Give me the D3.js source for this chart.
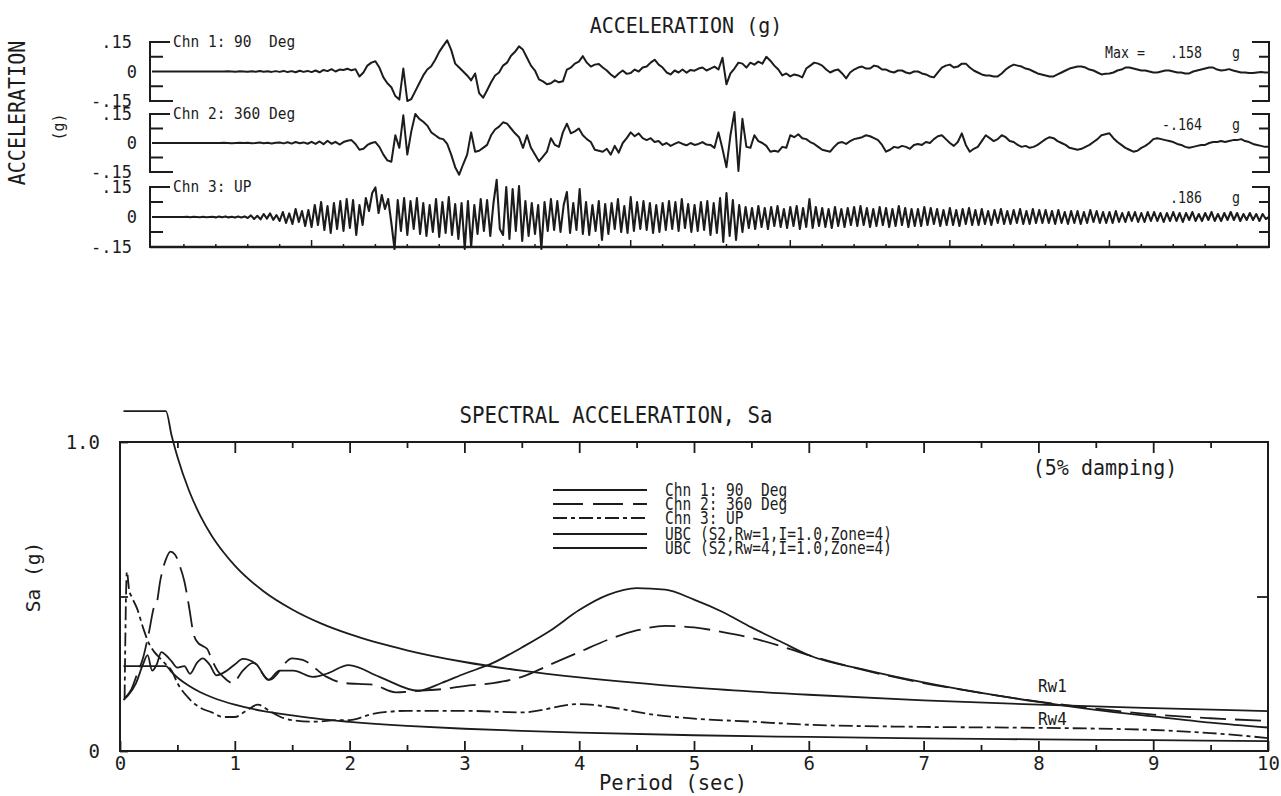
<!DOCTYPE html>
<html>
<head>
<meta charset="utf-8">
<script src="https://cdn.jsdelivr.net/npm/d3@7"></script>
<style>
body{margin:0;background:#fff;}
text{font-family:"DejaVu Sans Mono",monospace;fill:#1c1c1c;white-space:pre;}
</style>
</head>
<body>
<script>
// ---------- data: acceleration time histories (mg), ch1/ch2 every 0.125 s, ch3 every 0.1 s ----------
var dt12=0.125, dt3=0.1;
var ch1=[
0,0,0,0,0,0,0,0, 0,0,0,0,0,0,0,0, 0,0,0,1,0,-1,1,0, -1,1,-1,2,-1,1,-2,2,
-2,3,-3,2,-4,4,-2,3, -3,5,-4,8,2,12,0,10, 8,14,6,12,-25,-5,30,45, 52,20,-30,-60,-80,-125,-143,15,
-150,-140,-100,-60,-20,10,27,60, 100,130,158,110,40,20,0,-20, -45,-10,-110,-133,-95,-55,-20,-5, 30,45,80,100,128,110,70,30,
5,-40,-50,-65,-60,-45,-55,-50, 10,20,40,50,78,45,25,35, 38,20,5,-15,-30,-10,5,-12, -8,10,0,20,25,45,60,35,
20,-5,-15,5,-5,10,-6,8, 4,15,20,5,15,25,10,70, -65,-10,15,45,40,20,45,35, 50,40,75,55,30,10,-20,-10,
-25,-15,-20,-30,15,30,45,40, 30,10,-5,5,10,-10,-35,-5, 10,20,25,15,15,30,25,10, 10,0,-5,5,5,-5,-10,0,
0,-10,-15,-25,-30,-5,20,30, 35,20,25,40,40,20,5,-5, -15,-20,-20,-25,-25,-10,10,25, 35,30,25,15,10,0,-10,-15,
-20,-25,-25,-15,-5,5,15,20, 25,25,20,10,5,-5,-15,-12, -10,-5,5,10,20,20,15,10, 5,5,0,-5,-5,0,5,5,
0,-5,-5,-10,-10,0,5,10, 15,20,20,10,5,8,12,5, 0,-5,-5,-8,-8,-5,-3,-5, -5];
var ch2=[
0,0,0,0,0,0,0,0, 0,0,0,0,0,0,0,0, 0,0,1,0,-1,0,1,0, 1,-1,0,2,-1,1,-2,1,
3,-2,4,-3,5,-1,3,-4, 6,-5,8,-6,12,-4,6,-8, 5,12,15,-5,-35,-30,-10,0, 5,-20,-60,-90,-97,40,-25,143,
-60,60,150,125,110,90,55,40, 25,20,-5,-60,-125,-164,-110,-60, 55,-45,-40,-25,-10,40,70,85, 107,100,75,50,30,-25,40,-25,
-60,-95,-70,-45,25,-10,-20,55, 100,50,60,75,40,20,5,-35, -40,-45,-30,-60,-15,-50,0,25, 55,35,50,25,15,25,5,10,
-10,0,-15,-5,5,-5,-12,0, -10,-5,5,-8,-10,-25,55,-30, -125,40,160,-145,125,-20,-25,40, 10,0,-15,-45,-40,-45,-20,-25,
40,30,45,25,20,5,-5,-20, -35,-40,-45,-20,0,5,-5,10, 20,25,30,40,35,25,15,-10, -45,-35,-20,-25,-15,-20,-30,-10,
-5,-10,5,0,20,35,40,20, 0,-15,5,50,-10,-45,-30,-20, 10,40,25,10,20,40,30,10, 5,-10,-20,-15,-25,-20,-10,5,
20,30,25,10,0,-10,-25,-30, -35,-30,-20,-10,5,20,40,45, 50,25,5,-10,-25,-35,-45,-40, -25,-15,0,20,25,20,15,10,
5,-5,-10,-20,-25,-20,-15,-10, -10,0,5,5,10,5,10,15, 15,20,10,5,-5,-10,-15,-20, -20];
var ch3=[
0,0,0,0,0,0,0,0,0,0, 0,1,-1,1,0,-1,1,-1,0,1, -2,2,-1,3,-2,1,-3,2,-2,3, -5,8,-10,6,-12,15,-8,18,-14,10,
-20,25,-30,18,-35,40,-25,30,-45,35, -50,60,-40,75,-65,55,-80,70,-60,80, -70,90,-55,85,-90,60,-40,95,30,120,
148,20,110,40,90,-30,-160,85,-70,95, -90,80,-60,95,-85,70,-95,60,-75,90, -100,75,-80,100,-90,65,-110,70,-160,80,
-150,60,-85,90,-70,85,-95,70,186,-60, -90,150,-110,140,-70,155,-120,80,-95,70, -85,60,-160,75,-70,90,-65,80,-75,60,
125,-80,70,-65,140,-85,75,-90,60,-70, 80,-115,65,-85,70,-60,90,-75,55,-80, 100,-70,75,-60,80,-65,70,-80,60,-75,
70,-65,80,-60,75,-70,90,-55,65,-75, 60,-70,75,-65,80,-90,70,-80,95,-125, 120,-95,85,-115,60,-75,50,-55,45,-60,
55,-50,45,-60,50,-45,55,-50,40,-55, 50,-45,55,-60,45,-50,90,-55,50,-45, 45,-50,40,-55,50,-45,40,-50,45,-40,
50,-45,55,-40,45,-50,40,-45,50,-40, 45,-50,40,-45,55,-40,45,-50,40,-45, 40,-45,50,-40,45,-35,40,-45,35,-40,
45,-40,35,-45,40,-35,45,-40,35,-40, 40,-35,30,-40,35,-30,40,-35,30,-35, 35,-30,40,-35,30,-35,40,-30,35,-30,
35,-30,30,-35,35,-30,25,-35,30,-30, 30,-35,25,-30,35,-25,30,-30,25,-30, 25,-30,30,-25,20,-25,25,-20,25,-25,
20,-25,25,-20,25,-20,20,-25,20,-20, 25,-20,20,-25,20,-15,25,-20,15,-20, 20,-15,25,-20,15,-20,20,-15,25,-15,
20,-20,15,-15,20,-15,15,-20,15,-10, 0];
var chanLabels=["Chn 1: 90  Deg","Chn 2: 360 Deg","Chn 3: UP"];
var maxLabels=[".158","-.164",".186"];
var accTicks=[0.15,0,-0.15];
var accTickLabels=[".15","0","-.15"];

// ---------- data: response spectra (period s, Sa g) ----------
var t1=[0.03,0.07,0.14,0.2,0.24,0.28,0.32,0.36,0.4,0.45,0.5,0.56,0.61,0.67,0.72,0.78,0.84,0.93,1.0,1.07,1.19,1.29,1.39,1.51,1.68,1.8,1.99,2.26,2.6,2.8,3.0,3.25,3.5,3.75,4.0,4.25,4.5,4.75,5.0,5.25,5.5,5.75,6.0,6.5,7.0,7.5,8.0,8.5,9.0,9.5,10];
var sa1=[0.165,0.18,0.22,0.28,0.31,0.26,0.28,0.32,0.31,0.29,0.27,0.275,0.25,0.285,0.30,0.28,0.245,0.26,0.28,0.298,0.28,0.23,0.26,0.26,0.24,0.25,0.278,0.24,0.195,0.22,0.25,0.285,0.335,0.39,0.456,0.505,0.527,0.522,0.49,0.45,0.40,0.355,0.31,0.262,0.222,0.188,0.159,0.133,0.112,0.092,0.076];
var t2=[0.04,0.1,0.15,0.2,0.25,0.3,0.32,0.35,0.4,0.44,0.48,0.52,0.56,0.6,0.64,0.68,0.72,0.76,0.8,0.85,0.9,0.98,1.07,1.16,1.3,1.5,1.59,1.8,1.95,2.2,2.4,2.6,2.8,3.0,3.25,3.5,3.75,4.0,4.25,4.5,4.75,5.0,5.25,5.5,5.75,6.0,6.5,7.0,7.5,8.0,8.5,9.0,9.5,10];
var sa2=[0.17,0.2,0.25,0.3,0.38,0.47,0.48,0.55,0.62,0.645,0.635,0.6,0.55,0.47,0.38,0.35,0.34,0.33,0.295,0.26,0.24,0.22,0.26,0.285,0.23,0.30,0.295,0.24,0.22,0.215,0.19,0.195,0.2,0.21,0.22,0.24,0.28,0.32,0.36,0.39,0.405,0.40,0.385,0.366,0.34,0.31,0.26,0.22,0.188,0.16,0.137,0.118,0.106,0.097];
var t3=[0.04,0.06,0.08,0.1,0.15,0.2,0.25,0.3,0.35,0.4,0.45,0.5,0.6,0.7,0.8,0.9,1.0,1.1,1.2,1.3,1.4,1.5,1.7,1.9,2.0,2.2,2.5,3.0,3.5,4.0,4.3,4.6,5.0,5.5,6.0,7.0,8.0,9.0,9.5,10];
var sa3=[0.17,0.58,0.52,0.5,0.46,0.4,0.35,0.32,0.3,0.28,0.26,0.22,0.17,0.14,0.125,0.11,0.11,0.13,0.15,0.13,0.11,0.1,0.095,0.1,0.1,0.12,0.13,0.13,0.125,0.152,0.14,0.12,0.105,0.095,0.085,0.078,0.075,0.068,0.058,0.042];
var tUbc=[0.03,0.4,0.45,0.5,0.6,0.7,0.8,0.9,1.0,1.25,1.5,1.75,2.0,2.5,3.0,3.5,4.0,5.0,6.0,7.0,8.0,9.0,10.0];
var saRw1=[1.1,1.1,1.02,0.952,0.844,0.761,0.696,0.644,0.6,0.517,0.458,0.413,0.378,0.326,0.288,0.26,0.238,0.205,0.182,0.164,0.15,0.139,0.129];
var saRw4=[0.275,0.275,0.255,0.238,0.211,0.19,0.174,0.161,0.15,0.129,0.115,0.103,0.0945,0.0815,0.072,0.065,0.0595,0.051,0.0455,0.041,0.0375,0.035,0.032];
var legendLabels=["Chn 1: 90  Deg","Chn 2: 360 Deg","Chn 3: UP","UBC (S2,Rw=1,I=1.0,Zone=4)","UBC (S2,Rw=4,I=1.0,Zone=4)"];
var periodTicks=[0,1,2,3,4,5,6,7,8,9,10];

var ink="#1c1c1c";
var svg=d3.select("body").append("svg").attr("width",1281).attr("height",796);

function label(x,y,s,size,anchor,sy,rot){
  var tr="translate("+x+","+y+")"+(rot?" rotate("+rot+")":"")+" scale(1,"+(sy||1)+")";
  svg.append("text").attr("transform",tr).attr("text-anchor",anchor||"start")
     .attr("xml:space","preserve")
     .style("font-size",size+"px").text(s);
}

////////////////////////////// top: acceleration traces
var tx=d3.scaleLinear().domain([0,35]).range([152,1269]);
var bands=[[42,101],[114,172],[187,247]];
var series=[ch1,ch2,ch3];
var steps=[dt12,dt12,dt3];
var left=150,right=1269;

bands.forEach(function(b,i){
  var y=d3.scaleLinear().domain([-0.15,0.15]).range([b[1],b[0]]);
  var g=svg.append("g").attr("stroke",ink).attr("fill","none").attr("stroke-width",2);
  g.append("path").attr("d","M"+(left+20)+","+y(0.15)+"H"+left+"V"+y(-0.15)+"H"+(left+23));
  g.append("path").attr("d","M"+(right-17)+","+y(0.15)+"H"+right+"V"+y(-0.15)+"H"+(right-17));
  [0.075,-0.075].forEach(function(v){
    g.append("line").attr("x1",left).attr("x2",left+13).attr("y1",y(v)).attr("y2",y(v));
    g.append("line").attr("x1",right-10).attr("x2",right).attr("y1",y(v)).attr("y2",y(v));
  });
  var line=d3.line()
    .x(function(d,k){return tx(k*steps[i]);})
    .y(function(d){return y(d/1000);});
  svg.append("path").datum(series[i]).attr("d",line)
     .attr("fill","none").attr("stroke",ink).attr("stroke-width",i==2?2.1:2)
     .attr("stroke-linejoin","round");
  accTicks.forEach(function(v,k){
    label(v==0?137:132,y(v)+6,accTickLabels[k],17,"end",1.05);
  });
  label(173,b[0]+5,chanLabels[i],14.5,"start",1.1);
  label(1202,b[0]+16,maxLabels[i],13.3,"end",1.15);
  label(1236,b[0]+16,"g",13.3,"middle",1.15);
});
label(1105,bands[0][0]+16,"Max =",13.3,"start",1.15);

svg.append("line").attr("x1",left).attr("x2",right).attr("y1",247).attr("y2",247)
   .attr("stroke",ink).attr("stroke-width",2.5);
svg.append("g").selectAll("line").data(d3.range(1,35)).enter().append("line")
   .attr("x1",function(d){return tx(d);}).attr("x2",function(d){return tx(d);})
   .attr("y1",247).attr("y2",function(d){return d%5==0?240:244;})
   .attr("stroke",ink).attr("stroke-width",1.5);

label(686,33,"ACCELERATION (g)",20,"middle",1.05);
label(25,113,"ACCELERATION",20,"middle",1.15,-90);
label(64,127,"(g)",15,"middle",1.1,-90);

////////////////////////////// bottom: spectral acceleration
var sx=d3.scaleLinear().domain([0,10]).range([120,1268]);
var sy=d3.scaleLinear().domain([0,1]).range([751,442]);

svg.append("rect").attr("x",sx(0)).attr("y",sy(1)).attr("width",sx(10)-sx(0)).attr("height",sy(0)-sy(1))
   .attr("fill","none").attr("stroke",ink).attr("stroke-width",2);

var minor=d3.range(0.5,10,1);
var major=d3.range(1,10);
var xAxisB=d3.axisBottom(sx).tickValues(periodTicks).tickSize(-10).tickPadding(6).tickFormat(d3.format("d"));
var gxb=svg.append("g").attr("transform","translate(0,"+sy(0)+")").call(xAxisB);
var gxb2=svg.append("g").attr("transform","translate(0,"+sy(0)+")")
   .call(d3.axisBottom(sx).tickValues(minor).tickSize(-6).tickFormat(""));
var gxt=svg.append("g").attr("transform","translate(0,"+sy(1)+")")
   .call(d3.axisTop(sx).tickValues(major).tickSize(-11).tickFormat(""));
var gxt2=svg.append("g").attr("transform","translate(0,"+sy(1)+")")
   .call(d3.axisTop(sx).tickValues(minor).tickSize(-6).tickFormat(""));
var gyl=svg.append("g").attr("transform","translate("+sx(0)+",0)")
   .call(d3.axisLeft(sy).tickValues([0,0.5,1]).tickSize(-8).tickPadding(20)
   .tickFormat(function(d){return d==1?"1.0":(d==0?"0":"");}));
var gyr=svg.append("g").attr("transform","translate("+sx(10)+",0)")
   .call(d3.axisRight(sy).tickValues([0.5]).tickSize(-11).tickFormat(""));
[gxb,gxb2,gxt,gxt2,gyl,gyr].forEach(function(g){
  g.select(".domain").remove();
  g.selectAll("line").attr("stroke",ink).attr("stroke-width",1.8);
  g.selectAll("text").attr("fill",ink).style("font-family","'DejaVu Sans Mono',monospace").style("font-size","19px");
});

var specLine=function(ts){
  return d3.line().curve(d3.curveMonotoneX)
    .x(function(d,i){return sx(ts[i]);})
    .y(function(d){return sy(d);});
};
var specs=[
  {t:tUbc,v:saRw1,dash:null},
  {t:tUbc,v:saRw4,dash:null},
  {t:t3,v:sa3,dash:"14,4,4,4"},
  {t:t2,v:sa2,dash:"26,9"},
  {t:t1,v:sa1,dash:null}
];
specs.forEach(function(s){
  svg.append("path").datum(s.v).attr("d",specLine(s.t))
     .attr("fill","none").attr("stroke",ink).attr("stroke-width",1.8)
     .attr("stroke-dasharray",s.dash);
});

var legDash=[null,"30,10","14,4,4,4",null,null];
var legY=[490,504,518,534,548];
legendLabels.forEach(function(s,i){
  svg.append("line").attr("x1",553).attr("x2",647).attr("y1",legY[i]).attr("y2",legY[i])
     .attr("stroke",ink).attr("stroke-width",2.2).attr("stroke-dasharray",legDash[i]);
  label(665,legY[i]+6,s,14.5,"start",1.25);
});

label(616,423,"SPECTRAL ACCELERATION, Sa",20.8,"middle",1.1);
label(1105,475,"(5% damping)",20,"middle",1.05);
label(1038,692,"Rw1",16,"start",1.1);
label(1038,725,"Rw4",16,"start",1.1);
label(673,790,"Period (sec)",20.5,"middle",1);
label(40,577,"Sa (g)",19.5,"middle",1,-90);
</script>
</body>
</html>
